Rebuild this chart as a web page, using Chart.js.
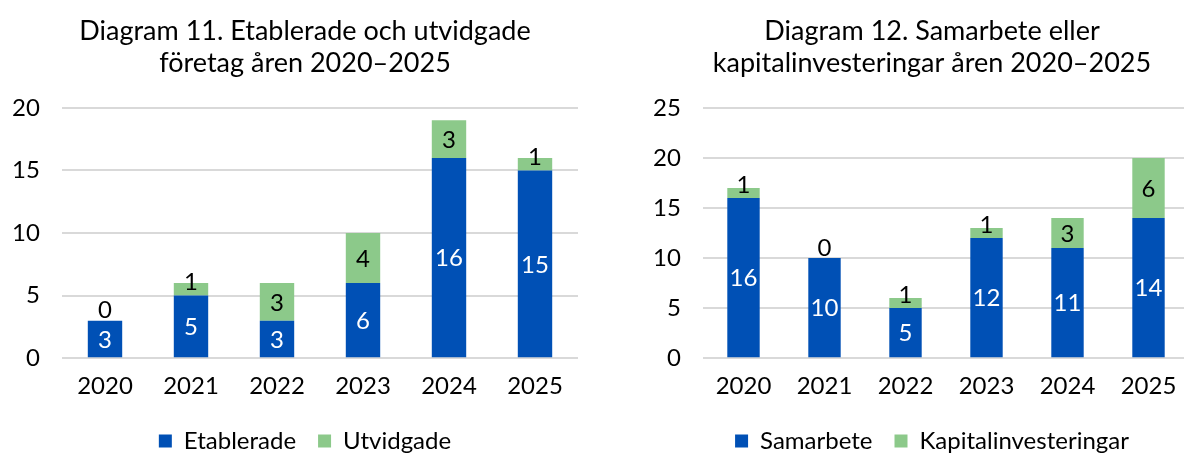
<!DOCTYPE html>
<html>
<head>
<meta charset="utf-8">
<script src="https://cdn.jsdelivr.net/npm/chart.js@4"></script>
<style>
  html, body { margin: 0; padding: 0; background: #fff; overflow: hidden; }
  body { width: 1184px; height: 453px; position: relative; }
  .box { position: absolute; top: 0; height: 463px; }
  #left { left: 0; width: 600px; }
  #right { left: 640px; width: 571px; }
</style>
</head>
<body>
<div class="box" id="left"><canvas id="chart1"></canvas></div>
<div class="box" id="right"><canvas id="chart2"></canvas></div>
<script>
const years = ['2020', '2021', '2022', '2023', '2024', '2025'];

const etablerade = [3, 5, 3, 6, 16, 15];
const utvidgade = [0, 1, 3, 4, 3, 1];

const samarbete = [16, 10, 5, 12, 11, 14];
const kapital = [1, 0, 1, 1, 3, 6];

const title1 = ['Diagram 11. Etablerade och utvidgade', 'företag åren 2020–2025'];
const title2 = ['Diagram 12. Samarbete eller', 'kapitalinvesteringar åren 2020–2025'];

const blue = '#0050b5';
const green = '#8cc98a';
const font = 'Lato';

// labels inside the segments, small ones pushed up like in Excel
const barLabels = {
  id: 'barLabels',
  afterDatasetsDraw(chart) {
    const ctx = chart.ctx;
    ctx.save();
    ctx.font = '24px ' + font;
    ctx.textAlign = 'center';
    ctx.textBaseline = 'middle';
    chart.data.datasets.forEach((ds, i) => {
      const meta = chart.getDatasetMeta(i);
      meta.data.forEach((bar, j) => {
        const v = ds.data[j];
        const top = bar.y, bottom = bar.base;
        let y = (top + bottom) / 2;
        if (i == 1) {
          if (v == 0) y = bottom - 11;
          else y = Math.min(y, bottom - 14);
        }
        ctx.fillStyle = i == 0 ? '#fff' : '#000';
        ctx.fillText(v, bar.x, y + 1);
      });
    });
    ctx.restore();
  }
};

// padLeft: room left of the y axis, axisW: width kept for the y axis
function makeChart(id, title, names, a, b, max, padLeft, axisW) {
  return new Chart(document.getElementById(id), {
    type: 'bar',
    data: {
      labels: years,
      datasets: [
        { label: names[0], data: a, backgroundColor: blue },
        { label: names[1], data: b, backgroundColor: green }
      ]
    },
    options: {
      responsive: true,
      maintainAspectRatio: false,
      animation: false,
      categoryPercentage: 1,
      barPercentage: 0.4,
      layout: { padding: { left: padLeft, right: 22, top: 0, bottom: 0 } },
      plugins: {
        title: {
          display: true,
          text: title,
          color: '#000',
          font: { family: font, size: 27, weight: 'normal', lineHeight: 1.2 },
          padding: { top: 15, bottom: 28 }
        },
        legend: {
          position: 'bottom',
          labels: {
            color: '#000',
            font: { family: font, size: 24 },
            boxWidth: 13,
            boxHeight: 13,
            padding: 22
          }
        },
        tooltip: { enabled: false }
      },
      scales: {
        x: {
          stacked: true,
          grid: { display: false },
          border: { display: false },
          ticks: { color: '#000', font: { family: font, size: 24 }, padding: 6 }
        },
        y: {
          stacked: true,
          min: 0,
          max: max,
          ticks: {
            stepSize: 5, color: '#000', font: { family: font, size: 24 },
            mirror: true, crossAlign: 'far', padding: -50
          },
          grid: { color: '#d9d9d9', lineWidth: 2, drawTicks: false },
          border: { display: false },
          afterFit: (s) => { s.width = axisW; }
        }
      }
    },
    plugins: [barLabels]
  });
}

makeChart('chart1', title1, ['Etablerade', 'Utvidgade'], etablerade, utvidgade, 20, 32, 30);
makeChart('chart2', title2, ['Samarbete', 'Kapitalinvesteringar'], samarbete, kapital, 25, 35, 28);
</script>
</body>
</html>
